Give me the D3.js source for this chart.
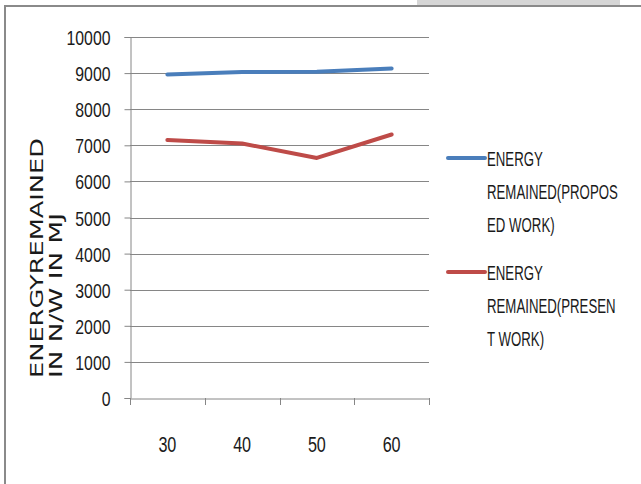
<!DOCTYPE html>
<html><head><meta charset="utf-8">
<script src="https://cdn.jsdelivr.net/npm/d3@7"></script>
<style>body{margin:0;background:#fff}svg{display:block}</style>
</head><body>
<script>
const categories = ["30","40","50","60"];
const proposed = [8960, 9030, 9040, 9130];
const present = [7150, 7050, 6650, 7300];
const yTicks = [0,1000,2000,3000,4000,5000,6000,7000,8000,9000,10000];
const seriesNames = [["ENERGY","REMAINED(PROPOS","ED WORK)"],["ENERGY","REMAINED(PRESEN","T WORK)"]];
const colors = ["#4a7ebb","#be4b48"];

const W=641,H=484;
const svg=d3.select("body").append("svg").attr("width",W).attr("height",H);
svg.append("rect").attr("width",W).attr("height",H).attr("fill","#fff");
// top-right gray bar
svg.append("rect").attr("x",417).attr("y",0).attr("width",203).attr("height",5).attr("fill","#d6d6d6");
// frame
svg.append("line").attr("x1",4).attr("x2",W).attr("y1",6).attr("y2",6).attr("stroke","#8a8a8a").attr("stroke-width",2);
svg.append("line").attr("x1",5).attr("x2",5).attr("y1",5).attr("y2",H).attr("stroke","#8a8a8a").attr("stroke-width",2);

const x=d3.scaleBand().domain(categories).range([130,429]);
const y=d3.scaleLinear().domain([0,10000]).range([398,37]);
const grey="#868686";
const cw=8.8;
const narrow="Liberation Sans, Arial, sans-serif";

// gridlines
svg.append("g").selectAll("line").data(yTicks.filter(d=>d>0)).join("line")
 .attr("x1",130).attr("x2",429).attr("y1",d=>Math.round(y(d))+0.5).attr("y2",d=>Math.round(y(d))+0.5)
 .attr("stroke",grey).attr("stroke-width",1);

const yAxis=svg.append("g").attr("transform","translate(130.5,0)")
 .call(d3.axisLeft(y).tickValues(yTicks).tickFormat(d3.format("d")).tickSize(6).tickPadding(14));
yAxis.select(".domain").attr("stroke",grey);
yAxis.selectAll(".tick line").attr("stroke",grey);
yAxis.selectAll(".tick text").attr("font-family",narrow).attr("font-size",21)
 .attr("fill","#1a1a1a").attr("dy","0.36em")
 .each(function(d){const s=String(d);d3.select(this).attr("textLength",s.length*cw).attr("lengthAdjust","spacingAndGlyphs");});

const xAxis=svg.append("g").attr("transform","translate(0,398.5)")
 .call(d3.axisBottom(x).tickSize(0).tickPadding(53));
xAxis.select(".domain").attr("stroke",grey);
xAxis.selectAll(".tick text").attr("font-family",narrow).attr("font-size",22)
 .attr("fill","#1a1a1a").attr("dy","0em")
 .each(function(d){d3.select(this).attr("textLength",d.length*9).attr("lengthAdjust","spacingAndGlyphs");});
// x tick marks at band boundaries
const bounds=categories.map(c=>x(c)).concat([x.range()[1]]);
svg.append("g").selectAll("line").data(bounds).join("line")
 .attr("x1",d=>Math.round(d)+0.5).attr("x2",d=>Math.round(d)+0.5).attr("y1",398).attr("y2",405)
 .attr("stroke",grey);

const line=d3.line().x((d,i)=>x(categories[i])+x.bandwidth()/2).y(d=>y(d));
[proposed,present].forEach((s,i)=>{
 svg.append("path").datum(s).attr("d",line).attr("fill","none").attr("stroke",colors[i])
  .attr("stroke-width",4).attr("stroke-linecap","round").attr("stroke-linejoin","round");
});

// y axis title
const yt=svg.append("text").attr("font-family","DejaVu Sans, Verdana, sans-serif").attr("font-size",18).attr("fill","#1a1a1a")
 .attr("transform","translate(43,378) rotate(-90)");
yt.append("tspan").attr("x",0).attr("y",0).text("ENERGYREMAINED").attr("textLength",240).attr("lengthAdjust","spacingAndGlyphs");
yt.append("tspan").attr("x",0).attr("y",19).text("IN N/W IN MJ").attr("textLength",165).attr("lengthAdjust","spacingAndGlyphs");

// legend
const legY=[158,272];
seriesNames.forEach((lines,i)=>{
 svg.append("line").attr("x1",448).attr("x2",485).attr("y1",legY[i]).attr("y2",legY[i])
  .attr("stroke",colors[i]).attr("stroke-width",4).attr("stroke-linecap","round");
 lines.forEach((t,j)=>{
  svg.append("text").attr("transform",`translate(487,${legY[i]+j*33}) scale(0.63,1)`).attr("dy","0.36em")
   .attr("font-family",narrow).attr("font-size",21).attr("fill","#1a1a1a").text(t);
 });
});
</script>
</body></html>
